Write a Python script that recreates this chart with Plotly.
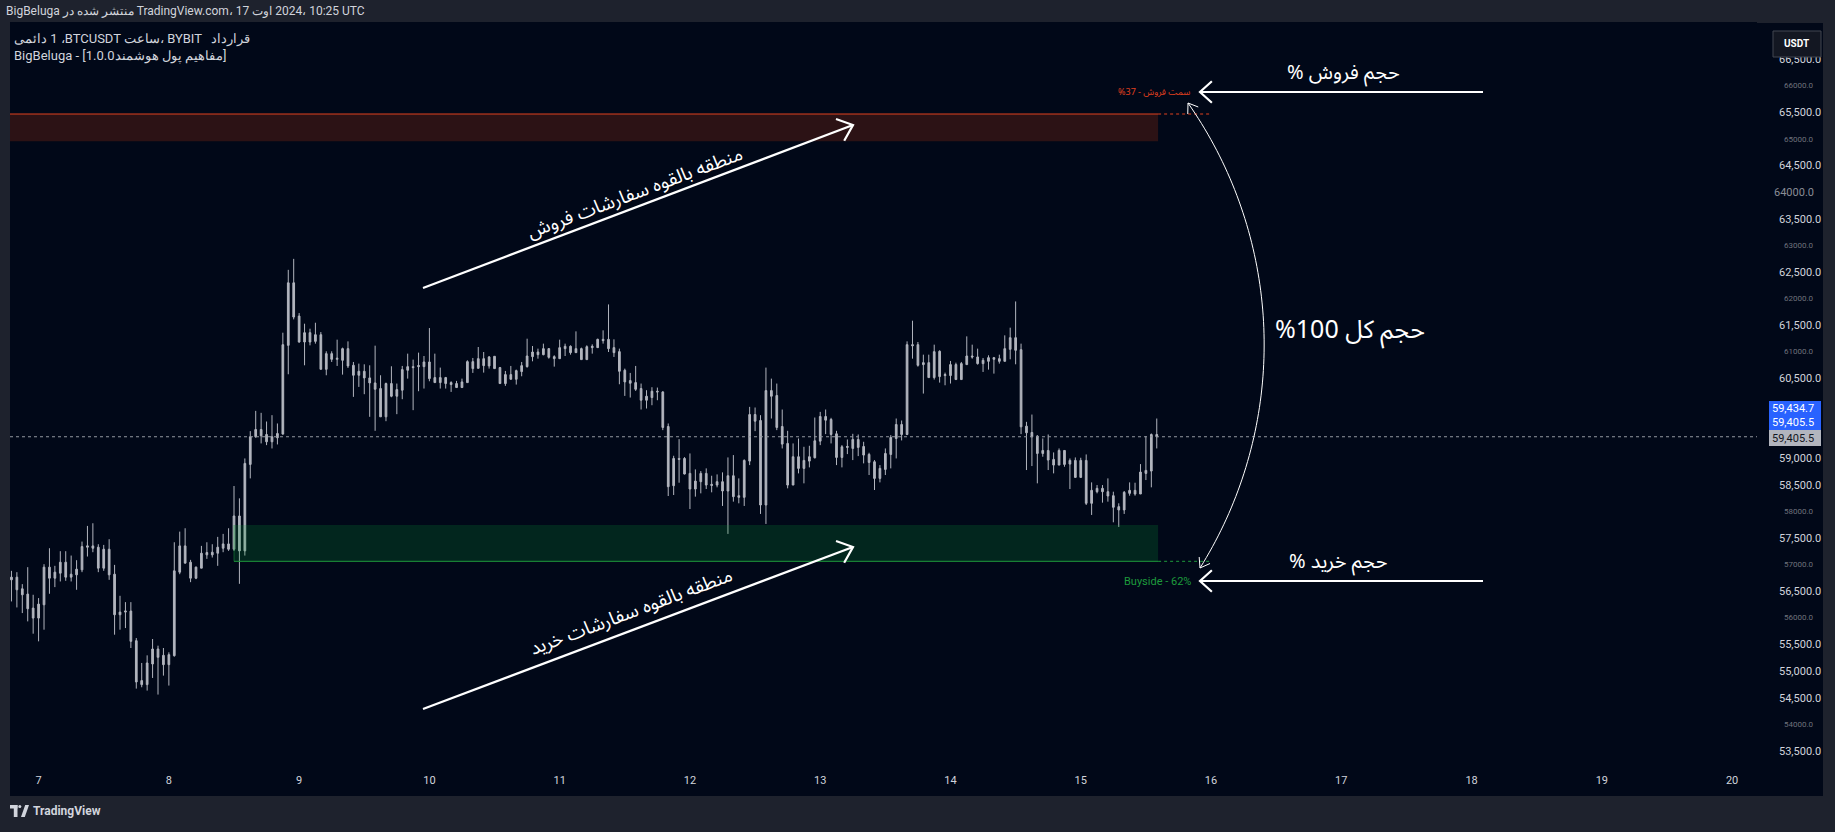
import math
import pandas as pd
import plotly.graph_objects as go

# ---------------- data ----------------
start_time = "2024-08-06 19:00"
open_ = [56717,56767,56548,56449,56186,55998,56248,56955,56748,56842,57048,56767,56811,56905,57330,57355,57330,56936,57292,56823,
         56061,56111,56130,55573,54823,54748,55136,55417,55298,55123,55292,56861,57355,57048,56748,56936,57186,57236,57217,57311,
         57392,57292,57917,57261,58886,59405,59542,59448,59311,59386,59455,61123,62298,61673,61186,61361,61198,61323,60673,60967,
         60861,60842,61061,60748,60561,60636,60511,60417,60311,59780,60405,60167,60280,60655,60723,60723,60723,60811,60517,60423,
         60517,60423,60405,60330,60423,60817,60692,60873,60736,60917,60705,60405,60573,60486,60630,60723,60911,60998,60948,61061,
         60911,60873,61061,61105,60986,61061,60855,61080,61080,61236,61236,61080,61005,60655,60461,60423,60311,60092,60142,60261,
         60248,59598,58486,58998,58998,58717,58423,58561,58717,58511,58498,58561,58386,58673,58298,58267,58948,59823,59711,58123,
         60273,60180,59598,59280,58498,59030,58811,58948,59011,59323,59786,59730,59461,59017,59205,59186,59355,59223,59073,58936,
         58623,58792,59073,59373,59636,59448,61136,61136,60761,60798,60517,61011,60555,60555,60761,60480,60761,60923,60905,60780,
         60823,60892,60873,60823,61048,61267,61042,59605,59486,59417,59092,59148,58980,58873,59148,58892,58961,58642,58961,58155,
         58373,58436,58373,58298,58092,58030,58342,58398,58330,58717,58761,59448]
high = [56886,56861,56636,56955,56436,56374,57011,57311,56980,57255,57255,57173,57086,57436,57730,57780,57386,57373,57480,56998,
        56417,56298,56298,55623,55155,55298,55605,55480,55436,55355,57423,57623,57686,57092,56967,57355,57423,57386,57524,57580,
        57686,58480,58248,58998,59511,59892,59855,59692,59811,59655,61361,62542,62748,61730,61530,61436,61548,61373,61011,61011,
        61230,61080,61198,60811,60780,60767,60748,61117,60561,60423,60730,60405,60736,60967,60855,60986,60923,61448,60967,60705,
        60530,60448,60455,60498,60842,60886,61092,60998,60923,60917,60717,60642,60736,60667,60811,61248,61111,61061,61155,61073,
        60936,61230,61155,61123,61386,61080,61123,61142,61248,61405,61892,61236,61061,60686,60605,60736,60405,60280,60336,60330,
        60261,59655,59048,59361,59023,59092,58792,58761,58811,58673,58698,58736,59017,59061,58623,58980,59967,59955,59811,60705,
        60498,60405,59917,59517,59280,59373,59217,59236,59767,59873,59917,59761,59517,59248,59355,59461,59448,59311,59105,58967,
        58873,59186,59436,59748,59711,61198,61586,61186,60948,60948,61136,61030,60611,60830,60798,60811,61292,61136,61061,60886,
        60936,60905,60948,61311,61455,61948,61155,59686,59823,59436,59373,59448,59111,59186,59148,58998,59017,59011,59073,58548,
        58498,58498,58623,58373,58155,58386,58548,58542,58892,59417,59467,59748]
low = [56311,56198,56092,55936,55705,55561,55780,56455,56580,56686,56698,56686,56530,56861,57155,57236,56861,56886,56717,55686,
       55780,55811,55436,54673,54698,54636,54873,54561,54917,54730,55273,56823,57030,56673,56730,56936,57111,57136,56980,57236,
       57261,57261,56642,57173,58623,59386,59280,59248,59186,59261,59448,60580,61611,61173,60748,61123,61155,60673,60561,60811,
       60736,60573,60698,60155,60342,60205,59780,59517,59780,59698,60148,59830,60111,60498,59905,60261,60311,60448,60423,60311,
       60311,60248,60323,60323,60423,60605,60686,60611,60686,60686,60405,60361,60480,60386,60542,60705,60823,60873,60936,60873,
       60723,60873,60923,60948,60986,60855,60855,60967,61073,61155,60998,60905,60392,60173,60142,60267,59917,59936,59998,60092,
       59530,58292,58311,58542,58698,58048,58280,58342,58423,58361,58455,58105,57580,58186,58155,58105,58873,59511,57955,57767,
       59748,59530,59186,58436,58498,58717,58530,58830,58998,59248,59455,59280,58873,58830,59080,58967,59042,58905,58686,58405,
       58548,58686,58811,58998,59336,59436,60873,60723,60217,60517,60480,60423,60373,60405,60480,60480,60761,60873,60761,60623,
       60667,60592,60780,60823,60861,60767,59455,58780,58855,58530,59030,58780,58717,58873,58842,58423,58642,58642,58123,57936,
       58342,58167,58186,57798,57711,57955,58298,58298,58330,58592,58455,59186]
close = [56767,56530,56436,56173,55998,56261,56955,56748,56861,57048,56767,56823,56917,57342,57355,57311,56936,57292,56811,56061,
         56111,56130,55561,54798,54748,55155,55417,55261,55123,55311,56886,57355,57030,56748,56955,57217,57230,57186,57330,57392,
         57292,57917,57261,58905,59405,59542,59423,59311,59405,59467,61136,62298,61655,61186,61361,61186,61323,60673,60967,60861,
         60880,61061,60736,60561,60636,60511,60417,60298,59780,60405,60167,60292,60667,60723,60705,60742,60811,60498,60423,60517,
         60405,60386,60330,60436,60817,60686,60873,60742,60905,60686,60405,60573,60486,60648,60742,60923,60998,60948,61061,60898,
         60873,61080,61105,60986,61061,60855,61098,61105,61236,61211,61061,60986,60636,60436,60411,60298,60092,60167,60261,60248,
         59580,58467,58998,58980,58705,58423,58573,58717,58498,58492,58561,58386,58673,58280,58267,58961,59823,59698,58123,60273,
         60167,59580,59267,58498,59030,58811,58961,59030,59330,59786,59717,59448,59017,59217,59223,59355,59205,59061,58923,58623,
         58811,59092,59392,59636,59448,61136,61117,60748,60798,60517,61005,60536,60573,60761,60480,60780,60923,60905,60780,60842,
         60892,60861,60823,61061,61267,61030,59592,59480,59405,59092,59148,58967,58873,59148,58886,58961,58642,58961,58155,58398,
         58436,58373,58292,58080,58030,58361,58398,58330,58742,58773,59448,59405.5]

last_price = 59405.5
tag_price = 59434.7
sell_zone = [64960, 65470]
buy_zone = [57065, 57747]
sell_zone_start = "2024-08-06 12:00"
buy_zone_start = "2024-08-08 12:00"
zone_end = "2024-08-15 14:15"
zone_ext_end = "2024-08-15 23:45"
sell_pct, buy_pct = 37, 62
day_ticks = pd.date_range("2024-08-07", "2024-08-20", freq="D")
day_labels = [str(d.day) for d in day_ticks]
price_ticks = [53500, 54500, 55000, 55500, 56500, 57500, 58500, 59000,
               60500, 61500, 62500, 63500, 64500, 65500, 66500]
price_labels = [f"{v:,.1f}" for v in price_ticks]
indicator_levels = [66000, 65000, 64000, 63000, 62000, 61000, 58000, 57000, 56000, 54000]

times = pd.date_range(start_time, periods=len(open_), freq="h")

# ---------------- layout helpers (pixel -> paper) ----------------
W, H = 1835, 832
L, R, T, B = 10, 1757, 22, 772
def px(x): return (x - L) / (R - L)
def py(y): return (B - y) / (B - T)

NAVY = "#010818"
FRAME = "#1e222d"
CANDLE = "#b2b5be"
TXT = "#d1d4dc"
RED = "#e0401f"
GREEN = "#1e9b3c"
AR_FONT = "Noto Sans Arabic, DejaVu Sans, sans-serif"
NUM_FONT = "Roboto, Arial, sans-serif"
LRM = "\u200e"

fig = go.Figure()
fig.add_trace(go.Candlestick(
    x=times, open=open_, high=high, low=low, close=close,
    increasing=dict(line=dict(color=CANDLE, width=1), fillcolor=CANDLE),
    decreasing=dict(line=dict(color=CANDLE, width=1), fillcolor=CANDLE),
    whiskerwidth=0, hoverinfo="skip", showlegend=False,
))

shapes = []
# panel background
shapes.append(dict(type="rect", xref="paper", yref="paper", x0=px(10), x1=px(1823), y0=py(23), y1=py(796),
                   fillcolor=NAVY, line=dict(width=0), layer="below"))
# sell zone
shapes.append(dict(type="rect", xref="x", yref="y", x0=sell_zone_start, x1=zone_end, y0=sell_zone[0], y1=sell_zone[1],
                   fillcolor="rgba(221,58,10,0.2)", line=dict(width=0), layer="above"))
shapes.append(dict(type="line", xref="x", yref="y", x0=sell_zone_start, x1=zone_end, y0=sell_zone[1], y1=sell_zone[1],
                   line=dict(color=RED, width=1), layer="above"))
shapes.append(dict(type="line", xref="x", yref="y", x0=zone_end, x1=zone_ext_end, y0=sell_zone[1], y1=sell_zone[1],
                   line=dict(color=RED, width=1, dash="dot"), layer="above"))
# buy zone
shapes.append(dict(type="rect", xref="x", yref="y", x0=buy_zone_start, x1=zone_end, y0=buy_zone[0], y1=buy_zone[1],
                   fillcolor="rgba(11,158,55,0.2)", line=dict(width=0), layer="above"))
shapes.append(dict(type="line", xref="x", yref="y", x0=buy_zone_start, x1=zone_end, y0=buy_zone[0], y1=buy_zone[0],
                   line=dict(color=GREEN, width=1), layer="above"))
shapes.append(dict(type="line", xref="x", yref="y", x0=buy_zone_start, x1=buy_zone_start, y0=buy_zone[0], y1=buy_zone[1],
                   line=dict(color="rgba(30,155,60,0.5)", width=1), layer="above"))
shapes.append(dict(type="line", xref="x", yref="y", x0=zone_end, x1=zone_ext_end, y0=buy_zone[0], y1=buy_zone[0],
                   line=dict(color=GREEN, width=1, dash="dot"), layer="above"))
# last price dotted line
shapes.append(dict(type="line", xref="paper", yref="y", x0=0, x1=1, y0=last_price, y1=last_price,
                   line=dict(color="#9598a1", width=1, dash="dot"), layer="above"))

def seg_path(points):
    return "M " + " L ".join(f"{px(x):.5f},{py(y):.5f}" for x, y in points)

def chevron(tip, frm, arm, ang):
    dx, dy = frm[0] - tip[0], frm[1] - tip[1]
    d = math.hypot(dx, dy)
    ux, uy = dx / d, dy / d
    pts = []
    for s in (1, -1):
        a = math.radians(ang * s)
        rx = ux * math.cos(a) - uy * math.sin(a)
        ry = ux * math.sin(a) + uy * math.cos(a)
        pts.append((tip[0] + arm * rx, tip[1] + arm * ry))
    return seg_path([pts[0], tip, pts[1]])

def arrow(p0, p1, width, arm, ang=40):
    shapes.append(dict(type="path", xref="paper", yref="paper", path=seg_path([p0, p1]),
                       line=dict(color="white", width=width), layer="above"))
    shapes.append(dict(type="path", xref="paper", yref="paper", path=chevron(p1, p0, arm, ang),
                       line=dict(color="white", width=width), layer="above"))

arrow((423, 288), (853, 125), 2.2, 18)
arrow((423, 709), (853, 547), 2.2, 18)
arrow((1483, 92), (1200, 92), 2.2, 16, 42)
arrow((1483, 581), (1200, 581), 2.2, 16, 42)

# arc
def circle3(a, b, c):
    ax, ay = a; bx, by = b; cx, cy = c
    d = 2 * (ax * (by - cy) + bx * (cy - ay) + cx * (ay - by))
    ux = ((ax*ax + ay*ay) * (by - cy) + (bx*bx + by*by) * (cy - ay) + (cx*cx + cy*cy) * (ay - by)) / d
    uy = ((ax*ax + ay*ay) * (cx - bx) + (bx*bx + by*by) * (ax - cx) + (cx*cx + cy*cy) * (bx - ax)) / d
    return ux, uy, math.hypot(ax - ux, ay - uy)

a_top, a_mid, a_bot = (1188, 103), (1264, 333), (1200, 568)
cx, cy, rr = circle3(a_top, a_mid, a_bot)
t0 = math.atan2(a_top[1] - cy, a_top[0] - cx)
t1 = math.atan2(a_bot[1] - cy, a_bot[0] - cx)
arc = [(cx + rr * math.cos(t0 + (t1 - t0) * i / 80), cy + rr * math.sin(t0 + (t1 - t0) * i / 80)) for i in range(81)]
shapes.append(dict(type="path", xref="paper", yref="paper", path=seg_path(arc),
                   line=dict(color="white", width=1), layer="above"))
shapes.append(dict(type="path", xref="paper", yref="paper", path=chevron(arc[0], arc[3], 11, 35),
                   line=dict(color="white", width=1), layer="above"))
shapes.append(dict(type="path", xref="paper", yref="paper", path=chevron(arc[-1], arc[-4], 11, 35),
                   line=dict(color="white", width=1), layer="above"))

# price tags
shapes.append(dict(type="rect", xref="paper", yref="paper", x0=px(1769), x1=px(1821), y0=py(401), y1=py(430),
                   fillcolor="#2962ff", line=dict(width=0), layer="above"))
shapes.append(dict(type="rect", xref="paper", yref="paper", x0=px(1769), x1=px(1821), y0=py(430), y1=py(446),
                   fillcolor="#b2b5be", line=dict(width=0), layer="above"))
# USDT button
shapes.append(dict(type="rect", xref="paper", yref="paper", x0=px(1773), x1=px(1821), y0=py(31), y1=py(57),
                   fillcolor="#131722", line=dict(color="#434651", width=1), layer="above"))
# TradingView logo glyph
LOGO = "#d1d4dc"
shapes += [
    dict(type="rect", xref="paper", yref="paper", x0=px(10), x1=px(17.5), y0=py(805), y1=py(808.5), fillcolor=LOGO, line=dict(width=0)),
    dict(type="rect", xref="paper", yref="paper", x0=px(13.8), x1=px(17.5), y0=py(805), y1=py(817), fillcolor=LOGO, line=dict(width=0)),
    dict(type="circle", xref="paper", yref="paper", x0=px(18.3), x1=px(21.3), y0=py(805), y1=py(808), fillcolor=LOGO, line=dict(width=0)),
    dict(type="path", xref="paper", yref="paper", path=seg_path([(21, 817), (24.8, 817), (29, 805), (25.2, 805)]) + " Z",
         fillcolor=LOGO, line=dict(width=0)),
]

ann = []
def text(x, y, s, size, color=TXT, xanchor="left", family=NUM_FONT, angle=0, yanchor="middle"):
    ann.append(dict(x=px(x), y=py(y), xref="paper", yref="paper", text=s, showarrow=False,
                    xanchor=xanchor, yanchor=yanchor, textangle=angle,
                    font=dict(size=size, color=color, family=family)))

text(4, 11, f"BigBeluga منتشر شده در{LRM} TradingView.com، 17 اوت{LRM} 2024{LRM}، 10:25 UTC", 12)
text(12, 39, f"{LRM}دائمی{LRM} 1 {LRM}،BTCUSDT{LRM} ساعت{LRM}، BYBIT {LRM}  قرارداد", 13)
text(12, 56, f"BigBeluga - [1.0.0{LRM}مفاهیم پول هوشمند{LRM}]", 13)
text(1192, 92, f"%{sell_pct} - {LRM}سمت فروش", 9, RED, "right", AR_FONT)
text(1193, 581, f"Buyside - {buy_pct}%", 11, GREEN, "right")
text(1343, 73, "% حجم فروش", 20, "white", "center", AR_FONT)
text(1338, 562, "% حجم خرید", 20, "white", "center", AR_FONT)
text(1350, 330, "%100 حجم کل", 25, "white", "center", AR_FONT)
text(635, 193, "منطقه بالقوه سفارشات فروش", 19, "white", "center", AR_FONT, -20.5)
text(631, 612, "منطقه بالقوه سفارشات خرید", 19, "white", "center", AR_FONT, -20.5)
text(1797, 44, "<b>USDT</b>", 10, "white", "center")
text(1816, 408.5, f"{tag_price:,.1f}", 11, "white", "right")
text(1816, 423, f"{last_price:,.1f}", 11, "white", "right")
text(1816, 438, f"{last_price:,.1f}", 11, "#131722", "right")
text(31, 811, "<b>TradingView</b>", 12, LOGO)

for lvl in indicator_levels:
    big = lvl == 64000
    ann.append(dict(x=px(1816), y=lvl, xref="paper", yref="y", text=f"{lvl:.1f}", showarrow=False,
                    xanchor="right", yanchor="middle",
                    font=dict(size=11 if big else 8, color="#8a8d96" if big else "#6f727c", family=NUM_FONT)))

fig.update_layout(
    width=W, height=H,
    margin=dict(l=L, r=W - R, t=T, b=H - B, pad=0, autoexpand=False),
    paper_bgcolor=FRAME, plot_bgcolor=NAVY,
    showlegend=False, hovermode=False,
    shapes=shapes, annotations=ann,
    xaxis=dict(type="date", range=["2024-08-06 18:44", "2024-08-20 04:35"],
               rangeslider=dict(visible=False), showgrid=False, zeroline=False, showline=False,
               tickvals=list(day_ticks), ticktext=day_labels, ticks="",
               tickfont=dict(size=11, color=TXT, family=NUM_FONT), fixedrange=True),
    yaxis=dict(side="right", range=[53106, 67199], showgrid=False, zeroline=False, showline=False,
               tickvals=price_ticks, ticktext=price_labels, ticks="", ticklabelstandoff=21,
               tickfont=dict(size=11, color=TXT, family=NUM_FONT), fixedrange=True),
    boxgap=0.55,
)

fig.write_html("out.html", config={"displayModeBar": False},
               post_script="document.body.style.margin='0';document.body.style.overflow='hidden';")
